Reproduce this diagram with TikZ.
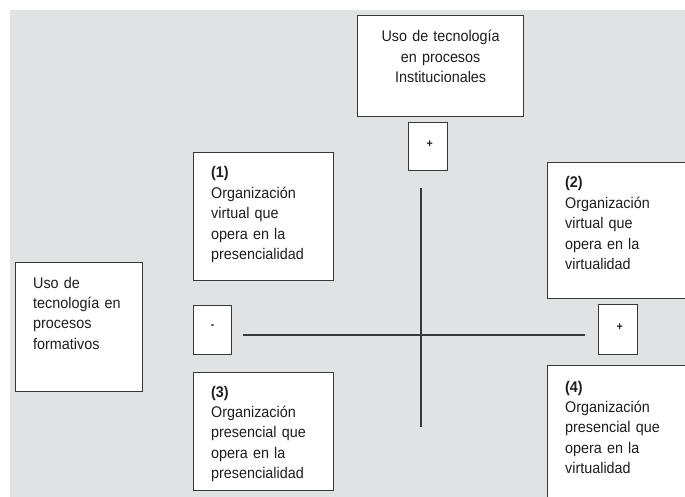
\documentclass[tikz,border=0pt]{standalone}
\usepackage{fontspec}
\setmainfont{Liberation Sans}[FakeStretch=0.93]
\definecolor{bg}{HTML}{E1E2E4}
\definecolor{edge}{HTML}{383838}
\definecolor{ink}{HTML}{1E1E1E}
\begin{document}
\begin{tikzpicture}[x=1bp,y=-1bp,
  box/.style={draw=edge, line width=1.3bp, fill=white, inner sep=0pt, anchor=north west},
  txt/.style={text=ink, font=\fontsize{15.5}{20.5}\selectfont, inner sep=0pt, align=left, anchor=base west, text width=#1},
  sign/.style={text=ink, font=\bfseries\fontsize{11.5}{12}\selectfont, inner sep=0pt},
  axis/.style={draw=edge, line width=1.3bp}]
\clip (0,0) rectangle (685,497);
\fill[white] (0,0) rectangle (685,497);
\fill[bg] (10,10) rectangle (685,497);

% boxes
\node[box, minimum width=166bp, minimum height=101bp] (top) at (357,15) {};
\node[box, minimum width=39bp, minimum height=48bp] (plusT) at (408,122) {};
\node[box, minimum width=140bp, minimum height=128bp] (b1) at (193,152) {};
\node[box, minimum width=150bp, minimum height=136bp] (b2) at (547,162) {};
\node[box, minimum width=39bp, minimum height=50bp] (plusR) at (598,304) {};
\node[box, minimum width=127bp, minimum height=129bp] (left) at (15,262) {};
\node[box, minimum width=38bp, minimum height=49bp] (minus) at (193,305) {};
\node[box, minimum width=140bp, minimum height=118bp] (b3) at (193,372) {};
\node[box, minimum width=150bp, minimum height=150bp] (b4) at (547,365) {};

% texts
\node[txt=166bp, align=center, anchor=base] (topt) at ([yshift=-27bp]top.north)
  {Uso de tecnología\\en procesos\\Institucionales};
\node[txt=130bp] (b1t) at ([shift={(18,26)}]b1.north west)
  {\textbf{(1)}\\Organización\\virtual que\\opera en la\\presencialidad};
\node[txt=130bp] (b2t) at ([shift={(18,26)}]b2.north west)
  {\textbf{(2)}\\Organización\\virtual que\\opera en la\\virtualidad};
\node[txt=130bp] (b3t) at ([shift={(18,25)}]b3.north west)
  {\textbf{(3)}\\Organización\\presencial que\\opera en la\\presencialidad};
\node[txt=130bp] (b4t) at ([shift={(18,27)}]b4.north west)
  {\textbf{(4)}\\Organización\\presencial que\\opera en la\\virtualidad};
\node[txt=120bp] (leftt) at ([shift={(18,26)}]left.north west)
  {Uso de\\tecnología en\\procesos\\formativos};

% signs
\node[sign] (sT) at ([shift={(1.5,-2.5)}]plusT.center) {+};
\node[sign] (sR) at ([shift={(1.5,-3)}]plusR.center) {+};
\node[sign] (sM) at ([shift={(0,-3)}]minus.center) {-};

% axes
\coordinate (hl) at (243,335);
\coordinate (hr) at (585,335);
\coordinate (vt) at (421,188);
\coordinate (vb) at (421,427);
\draw[axis] (hl) -- (hr);
\draw[axis] (vt) -- (vb);
\end{tikzpicture}
\end{document}
